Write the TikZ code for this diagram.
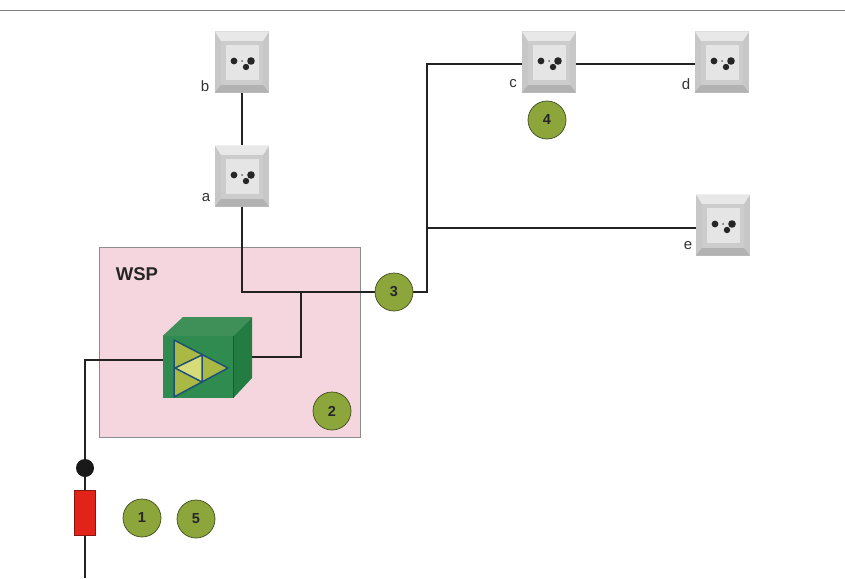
\documentclass[tikz,border=0pt]{standalone}
\usepackage{fontspec}
\setmainfont{Liberation Sans}
\usetikzlibrary{calc}
\definecolor{bad}{HTML}{8CA63C}
\definecolor{pinkb}{HTML}{F6D6DE}
\definecolor{wire}{HTML}{222222}
\definecolor{cubefront}{HTML}{2F8B50}
\definecolor{cubetop}{HTML}{3E8F58}
\definecolor{cubeside}{HTML}{237C42}
\definecolor{cubeedge}{HTML}{1C5C33}
\definecolor{triout}{HTML}{1E5078}
\definecolor{trifill}{HTML}{A9B944}
\definecolor{trilite}{HTML}{D6DC78}
\definecolor{fusered}{HTML}{E2231A}
\tikzset{
  wireline/.style={draw=wire,line width=1.9pt},
  badge/.style={circle,draw=black!55!bad,line width=0.7pt,fill=bad,inner sep=0pt,minimum width=38pt,font=\bfseries\fontsize{14.5}{14.5}\selectfont,text=black!85},
  outlet/.style={rectangle,draw=none,inner sep=0pt,minimum width=54pt,minimum height=61pt,fill=black!22},
  lbl/.style={font=\fontsize{15}{15}\selectfont,text=black!80,inner sep=0pt},
}
\newcommand{\outletat}[3]{%
  \node[outlet] (#1) at (#2,#3) {};
  \fill[black!9] (#1.north west) -- (#1.north east) -- ($(#1.center)+(21,-21)$) -- ($(#1.center)+(-21,-21)$) -- cycle;
  \fill[black!30] (#1.south west) -- (#1.south east) -- ($(#1.center)+(21,23)$) -- ($(#1.center)+(-21,23)$) -- cycle;
  \fill[black!20] ($(#1.center)+(-21,-21)$) rectangle ($(#1.center)+(21,23)$);
  \fill[black!10] ($(#1.center)+(-16,-17)$) rectangle ($(#1.center)+(17,18)$);
  \fill[black!85] ($(#1.center)+(-8,-1)$) circle[radius=3.4];
  \fill[black!85] ($(#1.center)+(9,-1)$) circle[radius=3.8];
  \fill[black!85] ($(#1.center)+(4,5)$) circle[radius=3.2];
  \fill[black!60] ($(#1.center)+(0,-1)$) circle[radius=1];
}
\begin{document}
\begin{tikzpicture}[x=1pt,y=-1pt]
\useasboundingbox (0,0) rectangle (845,578);
\fill[white] (0,0) rectangle (845,578);
\coordinate (ruleL) at (0,10);
\coordinate (ruleR) at (845,10);
\draw[black!50,line width=0.8pt] (ruleL) -- (ruleR);
% WSP box
\node[rectangle,draw=black!45,line width=0.7pt,fill=pinkb,minimum width=261pt,minimum height=190pt,inner sep=0pt] (wsp) at (229.5,342) {};
\node[font=\bfseries\fontsize{18.5}{18.5}\selectfont,text=black!85,inner sep=0pt] (wsplabel) at (137,274) {WSP};
% sockets
\outletat{b}{242}{62}
\outletat{a}{242}{176}
\outletat{c}{549}{62}
\outletat{d}{722}{62}
\outletat{e}{723}{225}
\node[lbl] (lb) at (205,86) {b};
\node[lbl] (la) at (206,198) {a};
\node[lbl] (lc) at (513,84) {c};
\node[lbl] (ld) at (686,84) {d};
\node[lbl] (le) at (688,246) {e};
% junctions
\coordinate (j1) at (242,292);
\coordinate (j2) at (301,292);
\coordinate (j3) at (301,357);
\coordinate (j4) at (427,292);
\coordinate (j5) at (427,228);
\coordinate (j6) at (427,64);
\coordinate (j7) at (85,360);
\coordinate (bottom) at (85,578);
\coordinate (cubeR) at (252,357);
\coordinate (cubeL) at (163,360);
% wires
\draw[wireline] (b.south) -- (a.north);
\draw[wireline] (a.south) -- (j1) -- (j4) -- (j6) -- (j6 -| c.west);
\draw[wireline] (j2) -- (j3) -- (cubeR);
\draw[wireline] (j5) -- (j5 -| e.west);
\draw[wireline] (j6 -| c.east) -- (j6 -| d.west);
\draw[wireline] (cubeL) -- (j7) -- (bottom);
% badges
\node[badge] (n3) at (394,292) {3};
\node[badge] (n4) at (547,120) {4};
\node[badge] (n2) at (332,411) {2};
\node[badge] (n1) at (142,518) {1};
\node[badge] (n5) at (196,519) {5};
% cube
\node[rectangle,inner sep=0pt,minimum width=70pt,minimum height=62pt,fill=cubefront,draw=none] (cube) at (198,367) {};
\fill[cubetop] (cube.north west) -- (183,317) -- (252,317) -- (cube.north east) -- cycle;
\fill[cubeside] (cube.north east) -- (252,317) -- (252,378) -- (cube.south east) -- cycle;
\draw[cubeedge,line width=0.6pt] (cube.north east) -- (cube.south east);
\fill[trifill] (174,340) -- (228,368) -- (174,397) -- cycle;
\fill[trilite] (175,368) -- (202,355) -- (202,382) -- cycle;
\draw[triout,line width=1.5pt,line join=round] (174,340) -- (228,368) -- (174,397) -- cycle;
\draw[triout,line width=1.5pt,line join=round] (175,368) -- (202,355) -- (202,382) -- cycle;
% fuse and dot
\node[circle,fill=black!90,inner sep=0pt,minimum size=18pt] (dot) at (85,468) {};
\node[rectangle,fill=fusered,draw=black!40!fusered,line width=0.6pt,inner sep=0pt,minimum width=21pt,minimum height=45pt] (fuse) at (84.5,512.5) {};
\end{tikzpicture}
\end{document}
